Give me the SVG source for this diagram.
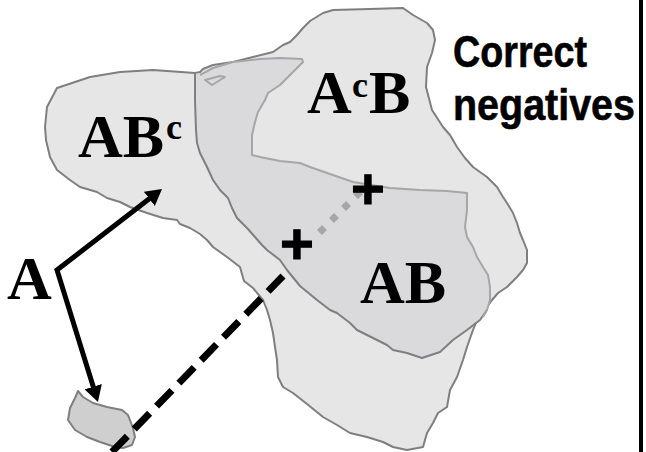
<svg xmlns="http://www.w3.org/2000/svg" width="646" height="452" viewBox="0 0 646 452">
<defs>
<style>
.outl{stroke:#7f7f7f;stroke-width:2;stroke-linejoin:round;fill:none}
.light{stroke:#a6a6a6;stroke-width:2;stroke-linejoin:round;fill:none}
.f-outer{fill:#e6e6e6}
.f-ab{fill:#dad9db;stroke:none}
.f-small{fill:#cfcfcf}
.lbl{font-family:"Liberation Serif","Times New Roman",serif;font-weight:bold;fill:#000}
.big{font-size:62px}
.sup{font-size:36px}
.side{font-family:"Liberation Sans",Arial,sans-serif;font-weight:bold;font-size:45px;fill:#000;stroke:#000;stroke-width:0.6}
.plus{font-family:"Liberation Sans",Arial,sans-serif;font-weight:bold;font-size:58px;fill:#000;stroke:#000;stroke-width:1;text-anchor:middle}
.arrow{stroke:#000;stroke-width:5;fill:none;stroke-linejoin:miter}
</style>
<marker id="ah" markerUnits="userSpaceOnUse" markerWidth="16" markerHeight="18" viewBox="0 0 16 18" refX="2" refY="9" orient="auto-start-reverse">
<path d="M0,0 L16,9 L0,18 Z" fill="#000"/>
</marker>
</defs>
<rect width="646" height="452" fill="#fff"/>

<g id="region-outer">
<path class="outl f-outer" d="M195,73 L200,72 L203,69 L213,65 L233,62 L253,57 L273,52 L283,45 L290,42 L297,35 L303,28 L310,21 L323,13 L333,10 L370,9 L403,8 L413,15 L427,23 L433,30 L435,40 L432,53 L427,67 L426,87 L432,110 L443,127 L450,135 L457,147 L465,158 L473,167 L487,177 L497,187 L503,197 L507,203 L513,213 L517,223 L520,233 L523,240 L527,250 L527,263 L523,270 L517,277 L507,287 L498,293 L492,300 L487,307 L482,313 L477,320 L473,330 L467,347 L463,360 L457,377 L450,390 L447,407 L438,413 L433,423 L427,433 L423,447 L407,450 L393,447 L383,442 L367,437 L350,433 L337,425 L323,417 L307,404 L293,393 L283,387 L278,377 L277,360 L275,347 L273,333 L270,320 L267,310 L263,300 L253,288 L244,281 L240,267 L227,257 L213,247 L207,240 L200,234 L190,228 L180,224 L177,220 L163,218 L147,213 L130,207 L120,202 L107,198 L97,192 L80,187 L70,180 L57,170 L50,157 L46,140 L45,127 L47,107 L57,88 L90,77 L120,72 L153,70 Z"/>
</g>

<g id="region-AB">
<path class="f-ab" d="M195,73 L195,100 L196,130 L197,143 L200,153 L207,167 L213,180 L220,190 L228,198 L232,208 L237,218 L247,228 L255,237 L262,245 L267,250 L280,260 L287,270 L300,286 L317,300 L330,310 L337,313 L350,323 L357,330 L373,338 L387,345 L393,350 L407,353 L422,358 L440,352 L453,340 L467,330 L480,320 L487,310 L490,300 L490,287 L488,275 L483,267 L477,257 L473,247 L467,237 L465,227 L467,210 L467,193 L447,191 L420,190 L390,188 L353,182 L310,167 L300,163 L280,161 L260,157 L252,155 L252,135 L255,122 L258,112 L265,100 L268,93 L280,85 L293,72 L303,62 L302,59 L280,58 L260,59 L233,62 L213,68 L200,75 Z"/>
<path class="outl" d="M195,73 L195,100 L196,130 L197,143 L200,153 L207,167 L213,180 L220,190 L228,198 L232,208 L237,218 L247,228 L255,237 L262,245 L267,250 L280,260 L287,270 L300,286 L317,300 L330,310 L337,313 L350,323 L357,330 L373,338 L387,345 L393,350 L407,353 L422,358 L440,352 L453,340 L467,330 L480,320 L487,310"/>
<path class="light" d="M200,75 L213,68 L233,62 L260,59 L280,58 L302,59 L303,62 L293,72 L280,85 L268,93 L265,100 L258,112 L255,122 L252,135 L252,155 L260,157 L280,161 L300,163 L310,167 L353,182 L390,188 L420,190 L447,191 L467,193 L467,210 L465,227 L467,237 L473,247 L477,257 L483,267 L488,275 L490,287 L490,300 L487,310 L483,317"/>
<path class="light" d="M205,80 L212,85 L225,77 L220,76 Z"/>
</g>

<g id="blob-small">
<path class="outl f-small" d="M78,391 L83,397 L93,403 L107,407 L122,410 L128,415 L133,428 L135,437 L132,445 L123,448 L115,447 L100,442 L87,437 L75,430 L68,420 L70,408 L75,398 Z"/>
</g>

<g id="labels">
<text class="lbl big" x="78" y="157">AB</text>
<text class="lbl sup" x="166" y="139">c</text>
<text class="lbl big" x="307" y="113">A</text>
<text class="lbl sup" x="352" y="97">c</text>
<text class="lbl big" x="369" y="113">B</text>
<text class="lbl big" x="360" y="303">AB</text>
<text class="lbl big" x="7" y="299">A</text>
</g>

<g id="connectors">
<path class="arrow" d="M150.9,197.6 L57,270 L93.8,388.6" marker-start="url(#ah)" marker-end="url(#ah)"/>
<path d="M112,452 L283,276" stroke="#000" stroke-width="7" stroke-dasharray="22 10" fill="none"/>
<path d="M319.5,232.5 L362,190" stroke="#a6a6a6" stroke-width="7" stroke-dasharray="7 10" fill="none"/>
</g>

<g id="plus-marks">
<text class="plus" x="297" y="264">+</text>
<text class="plus" x="368" y="209">+</text>
</g>

<g id="side-label">
<text class="side" x="453" y="67" textLength="134" lengthAdjust="spacingAndGlyphs">Correct</text>
<text class="side" x="453" y="120" textLength="182" lengthAdjust="spacingAndGlyphs">negatives</text>
</g>

<rect x="639" y="0" width="4" height="452" fill="#000"/>
</svg>
